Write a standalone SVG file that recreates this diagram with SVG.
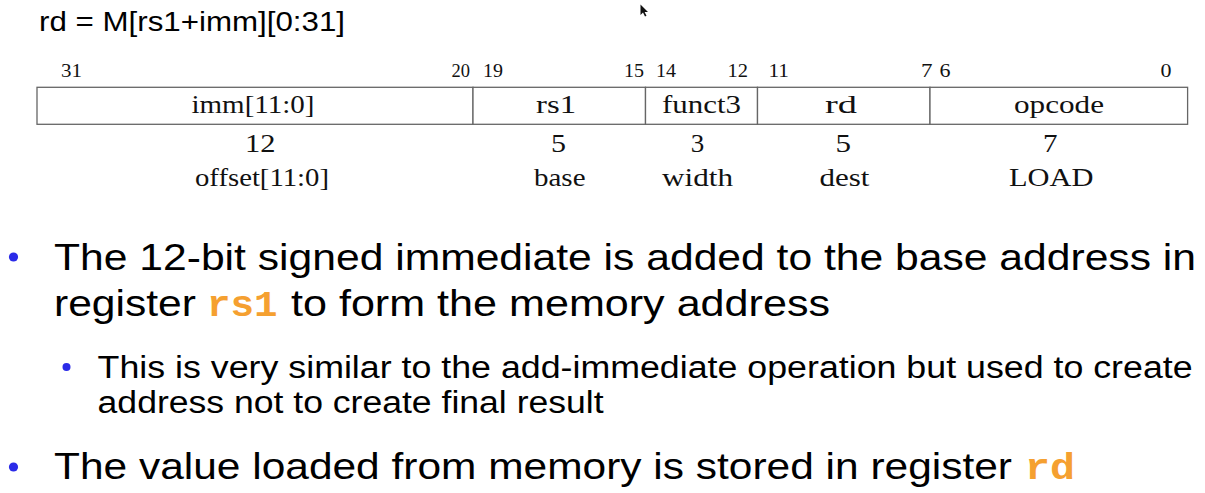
<svg xmlns="http://www.w3.org/2000/svg" width="1205" height="493" viewBox="0 0 1205 493">
<style>
.bits{font-family:"Liberation Serif","DejaVu Serif",serif;font-size:18px;fill:#111}
.fld{font-family:"Liberation Serif","DejaVu Serif",serif;font-size:25px;fill:#111}
.sans{font-family:"Liberation Sans",Arial,sans-serif;fill:#000}
.main{font-size:37px}
.sub{font-size:31px}
.code{font-family:"Liberation Mono","Courier New",monospace;font-weight:bold;font-size:37px;fill:#F5A030}
.dot{fill:#2B2BE8}
.box{fill:#fff;stroke:#666;stroke-width:1.3}
</style>
<rect width="1205" height="493" fill="#fff"/>
<text id="title" class="sans" x="39" y="30.5" font-size="27" textLength="306" lengthAdjust="spacingAndGlyphs">rd = M[rs1+imm][0:31]</text>
<path id="cursor" d="M640.5 4.5 L640.5 15 L643 12.5 L645 16.5 L646.5 15.8 L644.6 12 L648 12 Z" fill="#111"/>
<g id="bitnums" class="bits">
<text x="61" y="77" textLength="21" lengthAdjust="spacingAndGlyphs">31</text>
<text x="451.5" y="77" textLength="18.5" lengthAdjust="spacingAndGlyphs">20</text>
<text x="483" y="77" textLength="20" lengthAdjust="spacingAndGlyphs">19</text>
<text x="624" y="77" textLength="20" lengthAdjust="spacingAndGlyphs">15</text>
<text x="656" y="77" textLength="20" lengthAdjust="spacingAndGlyphs">14</text>
<text x="727.5" y="77" textLength="20.5" lengthAdjust="spacingAndGlyphs">12</text>
<text x="768.5" y="77" textLength="20.5" lengthAdjust="spacingAndGlyphs">11</text>
<text x="921" y="77" textLength="11.5" lengthAdjust="spacingAndGlyphs">7</text>
<text x="939.5" y="77" textLength="11" lengthAdjust="spacingAndGlyphs">6</text>
<text x="1160.5" y="77" textLength="11" lengthAdjust="spacingAndGlyphs">0</text>
</g>
<g id="field-imm">
<rect class="box" x="37" y="87.3" width="436" height="37"/>
<text class="fld" x="191.5" y="113.3" textLength="123" lengthAdjust="spacingAndGlyphs">imm[11:0]</text>
<text class="fld" x="245" y="151.7" textLength="30.5" lengthAdjust="spacingAndGlyphs">12</text>
<text class="fld" x="195" y="185.5" textLength="134" lengthAdjust="spacingAndGlyphs">offset[11:0]</text>
</g>
<g id="field-rs1">
<rect class="box" x="473" y="87.3" width="172.5" height="37"/>
<text class="fld" x="536" y="113.3" textLength="40" lengthAdjust="spacingAndGlyphs">rs1</text>
<text class="fld" x="551" y="151.7" textLength="15" lengthAdjust="spacingAndGlyphs">5</text>
<text class="fld" x="534" y="185.5" textLength="51.5" lengthAdjust="spacingAndGlyphs">base</text>
</g>
<g id="field-funct3">
<rect class="box" x="645.5" y="87.3" width="112" height="37"/>
<text class="fld" x="662" y="113.3" textLength="79" lengthAdjust="spacingAndGlyphs">funct3</text>
<text class="fld" x="690.7" y="151.7" textLength="13.5" lengthAdjust="spacingAndGlyphs">3</text>
<text class="fld" x="662" y="185.5" textLength="71" lengthAdjust="spacingAndGlyphs">width</text>
</g>
<g id="field-rd">
<rect class="box" x="757.5" y="87.3" width="172.5" height="37"/>
<text class="fld" x="825" y="113.3" textLength="32" lengthAdjust="spacingAndGlyphs">rd</text>
<text class="fld" x="835.5" y="151.7" textLength="15.5" lengthAdjust="spacingAndGlyphs">5</text>
<text class="fld" x="819.5" y="185.5" textLength="50" lengthAdjust="spacingAndGlyphs">dest</text>
</g>
<g id="field-opcode">
<rect class="box" x="930" y="87.3" width="257.6" height="37"/>
<text class="fld" x="1014" y="113.3" textLength="90" lengthAdjust="spacingAndGlyphs">opcode</text>
<text class="fld" x="1043" y="151.7" textLength="14.5" lengthAdjust="spacingAndGlyphs">7</text>
<text class="fld" x="1009" y="185.5" textLength="84.5" lengthAdjust="spacingAndGlyphs">LOAD</text>
</g>
<g id="bullets">
<circle class="dot" cx="13.5" cy="257" r="4.6"/>
<text class="sans main" x="54" y="270" textLength="1142" lengthAdjust="spacingAndGlyphs">The 12-bit signed immediate is added to the base address in</text>
<text class="sans main" x="54" y="316" textLength="142" lengthAdjust="spacingAndGlyphs">register</text>
<text class="code" x="207" y="316" textLength="70.5" lengthAdjust="spacingAndGlyphs">rs1</text>
<text class="sans main" x="291" y="316" textLength="539" lengthAdjust="spacingAndGlyphs">to form the memory address</text>
<circle class="dot" cx="66.5" cy="367" r="4"/>
<text class="sans sub" x="97.6" y="378" textLength="1095" lengthAdjust="spacingAndGlyphs">This is very similar to the add-immediate operation but used to create</text>
<text class="sans sub" x="97.6" y="413" textLength="506" lengthAdjust="spacingAndGlyphs">address not to create final result</text>
<circle class="dot" cx="13.5" cy="467" r="4.6"/>
<text class="sans main" x="54" y="479" textLength="958" lengthAdjust="spacingAndGlyphs">The value loaded from memory is stored in register</text>
<text class="code" x="1025" y="479" textLength="50" lengthAdjust="spacingAndGlyphs">rd</text>
</g>
</svg>
